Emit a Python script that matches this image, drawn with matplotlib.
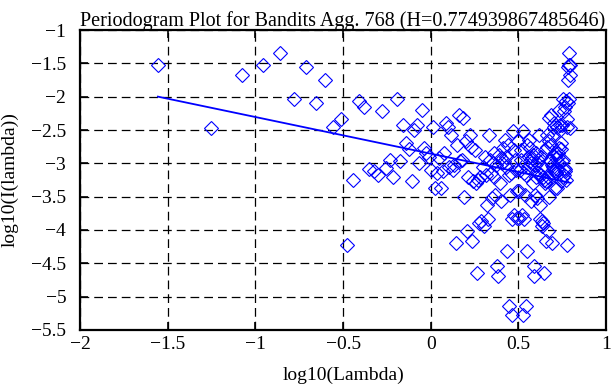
import numpy as np
import matplotlib
matplotlib.use("Agg")
import matplotlib.pyplot as plt

# periodogram of an aggregated series, n = 226 frequencies 2*pi*k/n
n = 226
H = 0.774939867485646
intercept = -2.855

# log10(I) for k = 1..113, the rest is the mirror image (I(k) = I(n-k))
log_i_first = [
    -1.52, -2.47, -1.67, -1.52, -1.35, -2.03, -1.56, -2.10, -1.75, -2.46,
    -2.33, -4.23, -3.25, -2.07, -2.15, -3.08, -3.12, -3.17, -2.21, -3.07,
    -2.95, -3.20, -2.03, -2.97, -2.42, -2.70, -2.79, -3.27, -2.50, -2.42,
    -3.00, -2.20, -2.77, -2.85, -2.90, -3.10, -2.45, -3.37,
]
log_i_mid = [
    -3.15, -2.92, -3.37, -3.12, -2.85, -2.40, -2.45, -3.05, -2.57, -3.10,
    -3.02, -4.19, -2.72, -2.27, -2.97, -2.95, -2.32, -3.50, -2.67, -4.02,
    -3.20, -2.57,
]
log_i_late = [
    -2.75, -4.17, -3.27, -2.80, -3.30, -4.64, -3.25, -3.89, -3.20, -3.87,
    -3.05, -3.94, -2.90, -3.17, -3.62, -3.84, -2.57, -2.95, -3.15, -3.52,
    -3.00, -2.85, -3.20, -3.47, -3.02, -4.54, -4.69, -2.87, -3.30,
]
log_i_last = [
    -2.92, -3.57, -3.00, -2.77, -2.97, -2.65, -2.90, -3.05, -4.32, -2.72,
    -5.14, -3.17, -3.47, -3.15, -3.84, -5.27, -2.52, -3.77, -2.80, -2.95,
    -3.10, -3.42, -3.82, -2.67,
]

half = np.array(log_i_first + log_i_mid + log_i_late + log_i_last)
log_i = np.concatenate([half, half[-2::-1]])
k = np.arange(1, len(log_i) + 1)
log_lam = np.log10(2 * np.pi * k / n)

plt.rcParams['font.family'] = ['Liberation Serif', 'DejaVu Serif']

fig = plt.figure(figsize=(6.11, 3.85), dpi=100)
ax = fig.add_axes([0.131, 0.143, 0.861, 0.779])

ax.plot(log_lam, log_i, linestyle='none', marker='D', ms=7.2,
        mfc='none', mec='#0000ff', mew=0.8)
fx = np.array([log_lam.min(), log_lam.max()])
ax.plot(fx, intercept + (1 - 2 * H) * fx, color='#0000ff', lw=1.3)

ax.set_xlim(-2, 1)
ax.set_ylim(-5.5, -1)
ax.set_xticks(np.arange(-2, 1.01, 0.5))
ax.set_yticks(np.arange(-5.5, -0.99, 0.5))
ax.set_xticklabels(['\u22122', '\u22121.5', '\u22121', '\u22120.5', '0', '0.5', '1'])
ax.set_yticklabels(['\u22125.5', '\u22125', '\u22124.5', '\u22124', '\u22123.5',
                    '\u22123', '\u22122.5', '\u22122', '\u22121.5', '\u22121'])
ax.grid(True, color='black', linestyle=(0, (7, 4)), lw=0.9)
ax.tick_params(direction='in', length=6, width=1.2, top=True, right=True,
               labelsize=14)
ax.tick_params(axis='x', pad=4)
ax.tick_params(axis='y', pad=10)
for s in ax.spines.values():
    s.set_linewidth(1.6)

ax.set_xlabel('log10(Lambda)', fontsize=14, labelpad=10)
ax.set_ylabel('log10(I(lambda))', fontsize=14, labelpad=9)
ax.set_title('Periodogram Plot for Bandits Agg. 768 (H=0.774939867485646)',
             fontsize=14.5, pad=3)

fig.savefig('out.png', dpi=100)
